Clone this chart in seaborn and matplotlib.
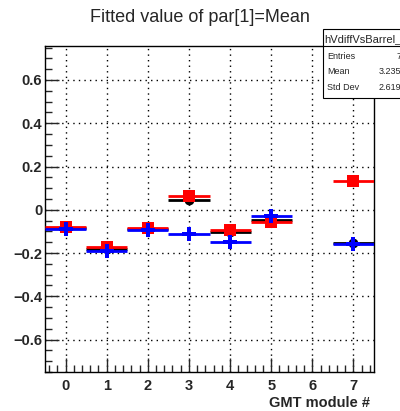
import numpy as np
import pandas as pd
import seaborn as sns
import matplotlib
matplotlib.use("Agg")
import matplotlib.pyplot as plt
from matplotlib.ticker import MultipleLocator
from matplotlib.patches import Rectangle
from matplotlib.lines import Line2D
from matplotlib import font_manager

# ---- data ----
modules = [0, 1, 2, 3, 4, 5, 7]
black_vals = [-0.085, -0.180, -0.090, 0.043, -0.105, -0.049, -0.155]
red_vals = [-0.080, -0.170, -0.083, 0.065, -0.092, -0.058, 0.134]
blue_vals = [-0.087, -0.190, -0.095, -0.112, -0.149, -0.031, -0.158]
xticks = [0, 1, 2, 3, 4, 5, 6, 7]
yticks = [-0.6, -0.4, -0.2, 0, 0.2, 0.4, 0.6]
ytick_labels = ["\u22120.6", "\u22120.4", "\u22120.2", "0", "0.2", "0.4", "0.6"]
title = "Fitted value of par[1]=Mean"
xlabel = "GMT module #"
stats_name = "hVdiffVsBarrel_1"
stats_rows = [("Entries", "7"), ("Mean", "3.235"), ("Std Dev", "2.619")]

sns.set_style("white")
plt.rcParams['font.family'] = ['Liberation Sans', 'DejaVu Sans']

names = {f.name for f in font_manager.fontManager.ttflist}
narrow = ['Liberation Sans Narrow', 'Liberation Sans'] if 'Liberation Sans Narrow' in names else ['Liberation Sans', 'DejaVu Sans']

fig = plt.figure(figsize=(4.0, 4.11), dpi=100)
ax = fig.add_axes([0.1125, 0.0949, 0.8225, 0.7931])

df = pd.DataFrame({"x": modules, "black": black_vals, "red": red_vals, "blue": blue_vals})

lw = 2.0
ax.hlines(df["black"], df["x"] - 0.5, df["x"] + 0.5, color="black", lw=lw, zorder=3)
sns.scatterplot(data=df, x="x", y="black", ax=ax, color="black", marker="o", s=50,
                linewidth=0, zorder=4, legend=False)
ax.hlines(df["red"], df["x"] - 0.5, df["x"] + 0.5, color="red", lw=lw, zorder=5)
sns.scatterplot(data=df, x="x", y="red", ax=ax, color="red", marker="s", s=70,
                linewidth=0, zorder=6, legend=False)
ax.hlines(df["blue"], df["x"] - 0.5, df["x"] + 0.5, color="blue", lw=lw, zorder=7)
sns.scatterplot(data=df, x="x", y="blue", ax=ax, color="blue", marker="P", s=100,
                linewidth=0, zorder=8, legend=False)

ax.set_xlim(-0.5, 7.5)
ax.set_ylim(-0.75, 0.757)
ax.set_xticks(xticks)
ax.set_xticklabels([str(t) for t in xticks], fontweight="bold", fontsize=10.5)
ax.set_yticks(yticks)
ax.set_yticklabels(ytick_labels, fontweight="bold", fontsize=10.5)
ax.xaxis.set_minor_locator(MultipleLocator(0.2))
ax.yaxis.set_minor_locator(MultipleLocator(0.05))
ax.tick_params(axis="both", which="major", direction="in", length=10, width=1,
               bottom=True, left=True, top=False, right=False)
ax.tick_params(axis="y", which="major", pad=2)
ax.tick_params(axis="x", which="major", pad=5)
ax.tick_params(axis="both", which="minor", direction="in", length=5, width=1,
               bottom=True, left=True, top=False, right=False)
ax.grid(True, which="major", color="black", linestyle=(0, (1, 3)), linewidth=1)
for s in ax.spines.values():
    s.set_color("black")
    s.set_linewidth(1)
ax.set_xlabel("")
ax.set_ylabel("")

fig.text(0.925, 1 - 403 / 411, xlabel, ha="right", va="center", fontsize=10.5, fontweight="bold")
fig.text(0.5, 1 - 18 / 411, title, ha="center", va="center", fontsize=13)

# stats box
x0 = 323 / 400
ytop = 1 - 29 / 411
ybot = 1 - 98 / 411
fig.patches.append(Rectangle((x0, ybot), 1.2 - x0, ytop - ybot, transform=fig.transFigure,
                             facecolor="white", edgecolor="black", lw=0.8, zorder=10))
fig.lines.append(Line2D([x0, 1.2], [1 - 46 / 411] * 2, transform=fig.transFigure,
                        color="black", lw=0.8, zorder=11))
fig.text(x0 + 0.004, 1 - 39 / 411, stats_name, ha="left", va="center", fontsize=8,
         family=narrow, zorder=12)
for i, (k, v) in enumerate(stats_rows):
    yy = 1 - (56 + 16 * i) / 411
    fig.text(x0 + 0.01, yy, k, ha="left", va="center", fontsize=6.5, family=narrow, zorder=12)
    fig.text(1.003, yy, v, ha="right", va="center", fontsize=6.5, family=narrow, zorder=12)

fig.savefig("out.png", dpi=100)
